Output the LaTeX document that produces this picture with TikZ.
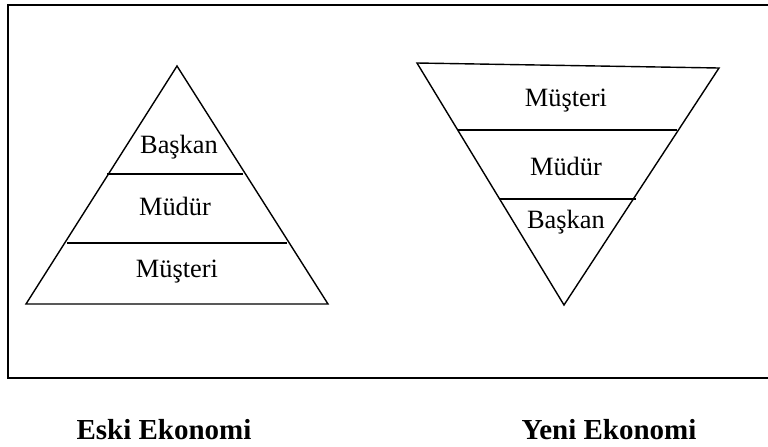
\documentclass[tikz,border=0pt]{standalone}
\usepackage{fontspec}
\setmainfont{Liberation Serif}

\begin{document}
\begin{tikzpicture}[x=0.5pt,y=-0.5pt,line join=miter,
    level/.style={font=\fontsize{13.2}{15}\selectfont,inner sep=0pt},
    caption/.style={font=\fontsize{14.5}{17}\selectfont\bfseries,inner sep=0pt}]
    \useasboundingbox (0,0) rectangle (768,446);
    \draw[line width=1pt] (780,5) -- (8,5) -- (8,378) -- (780,378);
    % eski ekonomi
    \coordinate (eA) at (177,66);
    \coordinate (eL) at (26,304);
    \coordinate (eR) at (328,304);
    \draw[line width=0.7pt] (eA) -- (eL) -- (eR) -- cycle;
    \draw[line width=0.7pt] (107,174) -- (243,174);
    \draw[line width=0.7pt] (67,243) -- (287,243);
    \node[level] (e1) at (179,147) {Başkan};
    \node[level] (e2) at (175,206) {Müdür};
    \node[level] (e3) at (177,272) {Müşteri};
    % yeni ekonomi
    \coordinate (yL) at (417,63);
    \coordinate (yR) at (719,68);
    \coordinate (yA) at (564,305);
    \draw[line width=0.7pt] (yL) -- (yR) -- (yA) -- cycle;
    \draw[line width=0.7pt] (458,130) -- (677,130);
    \draw[line width=0.7pt] (499,199) -- (636,199);
    \node[level] (y1) at (566,101) {Müşteri};
    \node[level] (y2) at (566,166) {Müdür};
    \node[level] (y3) at (566,222) {Başkan};
    % alt yazilar
    \node[caption] (eski) at (164,430) {Eski Ekonomi};
    \node[caption] (yeni) at (609,430) {Yeni Ekonomi};
\end{tikzpicture}
\end{document}
